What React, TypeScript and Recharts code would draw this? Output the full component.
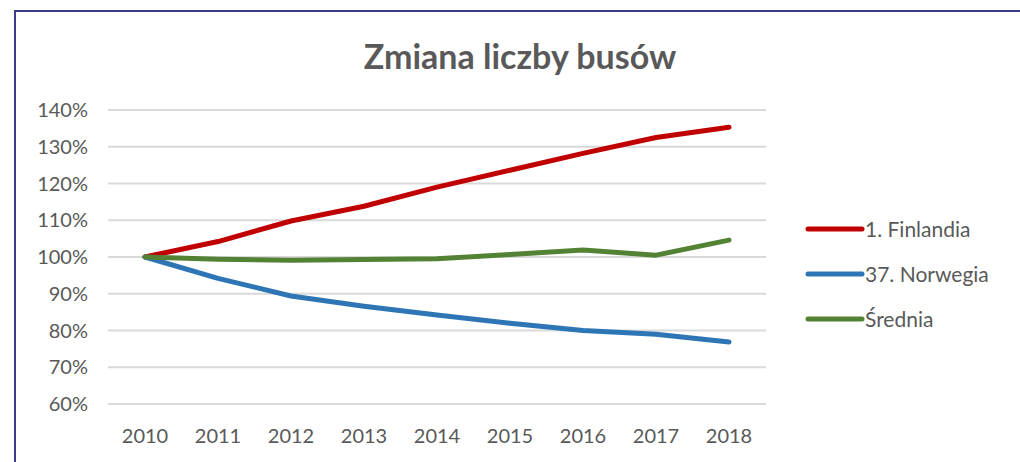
import React from "react";
import { LineChart, Line, XAxis, YAxis, CartesianGrid } from "recharts";

const years = ["2010", "2011", "2012", "2013", "2014", "2015", "2016", "2017", "2018"];
const finlandia = [100, 104.2, 109.8, 113.8, 119.0, 123.6, 128.2, 132.5, 135.3];
const norwegia = [100, 94.2, 89.4, 86.6, 84.2, 82.0, 80.0, 79.0, 76.9];
const srednia = [100, 99.4, 99.1, 99.3, 99.5, 100.7, 101.9, 100.5, 104.6];
const yTicks = [60, 70, 80, 90, 100, 110, 120, 130, 140];

const seriesNames = ["1. Finlandia", "37. Norwegia", "Średnia"];
const seriesColors = ["#C00000", "#2E75B6", "#548235"];

const data = years.map((y, i) => ({
  year: y,
  fin: finlandia[i],
  nor: norwegia[i],
  sre: srednia[i],
}));

const FONT = "Lato, 'Open Sans', sans-serif";

const LegendBox = () => (
  <div style={{ position: "absolute", left: 804, top: 206, width: 214, fontFamily: FONT }}>
    {seriesNames.map((n, i) => (
      <div key={n} style={{ display: "flex", alignItems: "center", height: 45 }}>
        <svg width={61} height={10} style={{ display: "block" }}>
          <line x1={4} y1={5} x2={58} y2={5} stroke={seriesColors[i]} strokeWidth={5} strokeLinecap="round" />
        </svg>
        <span style={{ fontSize: 21, color: "#595959", marginLeft: 0 }}>{n}</span>
      </div>
    ))}
  </div>
);

export default function App() {
  return (
    <div style={{ position: "absolute", left: 0, top: 0, width: 1020, height: 462, overflow: "hidden", background: "#fff" }}>
      <div
        style={{
          position: "absolute",
          left: 14,
          top: 10,
          width: 1100,
          height: 600,
          border: "2px solid #3c3c8c",
          boxSizing: "border-box",
        }}
      />
      <div
        style={{
          position: "absolute",
          left: 0,
          width: 1040,
          top: 34,
          textAlign: "center",
          fontFamily: FONT,
          fontWeight: 700,
          fontSize: 34,
          color: "#595959",
          lineHeight: "44px",
        }}
      >
        Zmiana liczby busów
      </div>
      <div style={{ position: "absolute", left: 0, top: 0 }}>
        <LineChart width={1020} height={462} data={data} margin={{ top: 110, right: 254, bottom: 8, left: 48 }}>
          <CartesianGrid vertical={false} stroke="#d9d9d9" strokeWidth={2} />
          <XAxis
            dataKey="year"
            axisLine={false}
            tickLine={false}
            tickSize={0}
            tickMargin={25}
            height={50}
            interval={0}
            padding={{ left: 37, right: 37 }}
            tick={{ fill: "#595959", fontSize: 20, fontFamily: FONT }}
          />
          <YAxis
            domain={[60, 140]}
            ticks={yTicks}
            interval={0}
            width={60}
            axisLine={false}
            tickLine={false}
            tickSize={0}
            tickMargin={20}
            tickFormatter={(v: number) => `${v}%`}
            tick={{ fill: "#595959", fontSize: 20, fontFamily: FONT }}
          />
          <Line dataKey="fin" name={seriesNames[0]} stroke={seriesColors[0]} strokeWidth={5} dot={false} strokeLinecap="round" strokeLinejoin="round" isAnimationActive={false} />
          <Line dataKey="nor" name={seriesNames[1]} stroke={seriesColors[1]} strokeWidth={5} dot={false} strokeLinecap="round" strokeLinejoin="round" isAnimationActive={false} />
          <Line dataKey="sre" name={seriesNames[2]} stroke={seriesColors[2]} strokeWidth={5} dot={false} strokeLinecap="round" strokeLinejoin="round" isAnimationActive={false} />
        </LineChart>
      </div>
      <LegendBox />
    </div>
  );
}
